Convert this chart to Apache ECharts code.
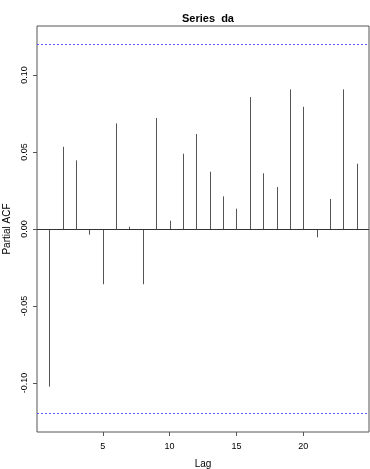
<!DOCTYPE html>
<html>
<head>
<meta charset="utf-8">
<script src="https://cdn.jsdelivr.net/npm/echarts@6/dist/echarts.min.js"></script>
<style>html,body{margin:0;padding:0;background:#fff;}#c{width:370px;height:469px;}</style>
</head>
<body>
<div id="c"></div>
<script>
const lags = [1,2,3,4,5,6,7,8,9,10,11,12,13,14,15,16,17,18,19,20,21,22,23,24];
const pacf = [-0.1024,0.0534,0.0446,-0.0037,-0.0359,0.0686,0.0015,-0.0359,0.0721,0.0054,0.0489,0.0617,0.0372,0.0212,0.0132,0.0857,0.0362,0.0273,0.0907,0.0794,-0.0054,0.0195,0.0907,0.0424];
const ciBound = 0.1221;
const xTicks = [5,10,15,20];
const yTicks = [-0.10,-0.05,0,0.05,0.10];
const yTickLabels = ['-0.10','-0.05','0.00','0.05','0.10'];

const chart = echarts.init(document.getElementById('c'), null, {renderer:'canvas'});
const font = 'Liberation Sans, Arial, sans-serif';
const xMin = 1 - 0.04*23, xMax = 24 + 0.04*23;
const yMax = ciBound*1.08, yMin = -yMax;
const dashed = {color:'#5a5aff',type:[2,2],width:1};
chart.setOption({
  animation:false,
  title:{text:'Series  da', left:203, top:8, textAlign:'center',
    textStyle:{fontFamily:font,fontSize:11,fontWeight:'bold',color:'#000'}},
  grid:{left:37,right:1,top:26,bottom:37,show:true,borderColor:'#555',borderWidth:1,backgroundColor:'transparent',
    containLabel:false,outerBoundsMode:'none'},
  xAxis:{type:'value',min:xMin,max:xMax,
    name:'Lag',nameLocation:'middle',nameGap:27,nameTextStyle:{fontFamily:font,fontSize:10,color:'#000'},
    axisLine:{show:false,onZero:false},splitLine:{show:false},
    axisTick:{show:true,length:4,lineStyle:{color:'#555'},customValues:xTicks},
    axisLabel:{fontFamily:font,fontSize:9,color:'#000',margin:10,customValues:xTicks}},
  yAxis:{type:'value',min:yMin,max:yMax,
    name:'Partial ACF',nameLocation:'middle',nameGap:25,nameRotate:90,nameTextStyle:{fontFamily:font,fontSize:10,color:'#000'},
    axisLine:{show:false,onZero:false},splitLine:{show:false},
    axisTick:{show:true,length:4,lineStyle:{color:'#555'},customValues:yTicks},
    axisLabel:{fontFamily:font,fontSize:9,color:'#000',rotate:90,margin:8,customValues:yTicks,
      formatter:function(v){const i=yTicks.findIndex(t=>Math.abs(t-v)<1e-9);return i>=0?yTickLabels[i]:'';}}},
  series:[{
    type:'custom',
    data:lags.map((l,i)=>[l,pacf[i]]),
    renderItem:function(params,api){
      const p0=api.coord([api.value(0),0]);
      const p1=api.coord([api.value(0),api.value(1)]);
      return {type:'line',shape:{x1:Math.round(p0[0])+0.5,y1:p0[1],x2:Math.round(p1[0])+0.5,y2:p1[1]},style:{stroke:'#555',lineWidth:1}};
    },
    markLine:{silent:true,symbol:'none',label:{show:false},lineStyle:{color:'#333',type:'solid',width:1},
      data:[{yAxis:0}]}
  },{
    type:'line',data:[],
    markLine:{silent:true,symbol:'none',label:{show:false},lineStyle:dashed,
      data:[{yAxis:ciBound},{yAxis:-ciBound}]}
  }]
});
</script>
</body>
</html>
